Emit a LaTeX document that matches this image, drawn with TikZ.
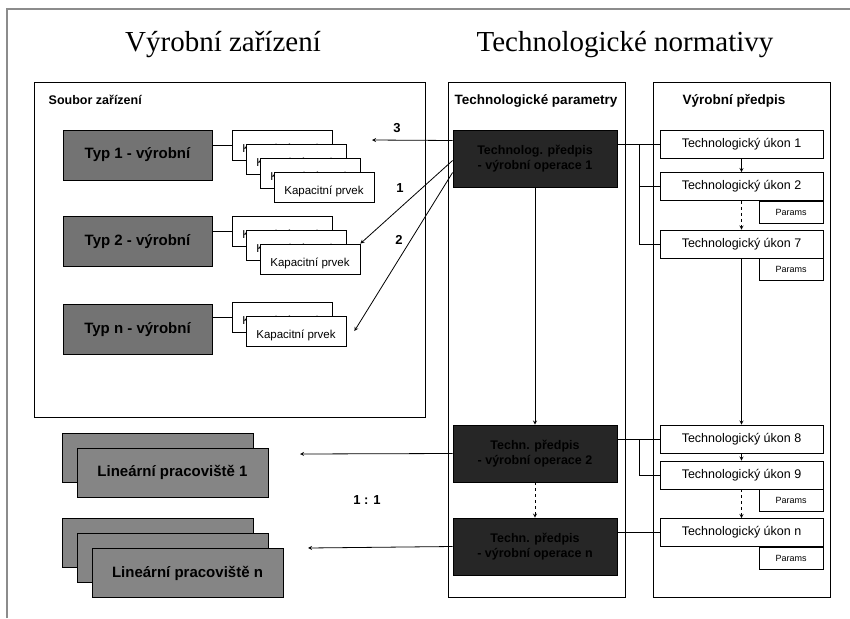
\documentclass[tikz,border=0pt]{standalone}
\usepackage{fontspec}
\setmainfont{Liberation Sans}
\newfontfamily\titleserif{Liberation Serif}

\begin{document}
\begin{tikzpicture}[x=1pt,y=-1pt,>=stealth,line width=0.8pt,
    title/.style={font=\titleserif\fontsize{29}{32}\selectfont},
    head/.style={font=\fontsize{12.5}{14}\selectfont\bfseries},
    frame/.style={draw,line width=1pt},
    typ/.style={draw,fill=black!55,minimum width=149,minimum height=50,inner sep=0pt,font=\fontsize{15}{17}\selectfont\bfseries},
    kap/.style={draw,fill=white,minimum width=100,minimum height=30,inner sep=0pt,text height=14pt,text depth=0pt,font=\fontsize{11.5}{13}\selectfont},
    linbox/.style={draw,fill=black!48,minimum width=191,minimum height=49,inner sep=0pt,font=\fontsize{15}{17}\selectfont\bfseries},
    oper/.style={draw,fill=black!85,text=black,minimum width=164,minimum height=57,inner sep=0pt,align=center,font=\fontsize{12.5}{15}\selectfont\bfseries},
    ukon/.style={draw,fill=white,minimum width=163,minimum height=28,inner sep=0pt,font=\fontsize{12.5}{14}\selectfont},
    params/.style={draw,fill=white,minimum width=64,minimum height=22,inner sep=0pt,anchor=north east,font=\fontsize{9}{10}\selectfont},
    num/.style={font=\fontsize{13}{15}\selectfont\bfseries}]

    \useasboundingbox[fill=white] (0,0) rectangle (850,618);
    \draw[black!45,line width=1.2pt] (7,618) -- (7,9) -- (850,9);

    % headings
    \node[title] (h1) at (223,45) {Výrobní zařízení};
    \node[title] (h2) at (625,45) {Technologické normativy};

    % column frames
    \draw[frame] (34,82) rectangle (425,417);
    \draw[frame] (448,82) rectangle (625,597);
    \draw[frame] (653,82) rectangle (830,597);
    \node[head,anchor=west] (s0) at (45,100) {Soubor zařízení};
    \node[head,font=\fontsize{13.5}{15}\selectfont\bfseries] (s1) at (536,101) {Technologické parametry};
    \node[head,font=\fontsize{13.5}{15}\selectfont\bfseries] (s2) at (734,101) {Výrobní předpis};

    % equipment types
    \node[typ] (t1) at (137.5,155) {Typ 1 - výrobní};
    \node[typ] (t2) at (137.5,241.5) {Typ 2 - výrobní};
    \node[typ] (tn) at (137.5,329.5) {Typ n - výrobní};

    \draw (t1.east |- 282,145) -- (232,145);
    \draw (t2.east |- 282,231) -- (232,231);
    \draw (tn.east |- 282,317) -- (232,317);

    \node[kap] (k11) at (282,145) {Kapacitní prvek};
    \node[kap] (k12) at ([shift={(14,14)}]k11) {Kapacitní prvek};
    \node[kap] (k13) at ([shift={(14,14)}]k12) {Kapacitní prvek};
    \node[kap] (k14) at ([shift={(14,14)}]k13) {Kapacitní prvek};

    \node[kap] (k21) at (282,231) {Kapacitní prvek};
    \node[kap] (k22) at ([shift={(14,14)}]k21) {Kapacitní prvek};
    \node[kap] (k23) at ([shift={(14,14)}]k22) {Kapacitní prvek};

    \node[kap] (kn1) at (282,317) {Kapacitní prvek};
    \node[kap] (kn2) at ([shift={(14,14)}]kn1) {Kapacitní prvek};

    % linear workplaces
    \node[linbox] (l11) at (157.5,457.5) {};
    \node[linbox] (l12) at ([shift={(15,15)}]l11) {Lineární pracoviště 1};
    \node[linbox] (ln1) at (157.5,543) {};
    \node[linbox] (ln2) at ([shift={(15,15)}]ln1) {};
    \node[linbox] (ln3) at ([shift={(15,15)}]ln2) {Lineární pracoviště n};

    % technological parameters
    \node[oper] (p1) at (535,158.5) {Technolog. předpis\\- výrobní operace 1};
    \node[oper] (p2) at (535,453.5) {Techn. předpis\\- výrobní operace 2};
    \node[oper] (pn) at (535,546.5) {Techn. předpis\\- výrobní operace n};

    % production steps
    \node[ukon] (u1) at (741.5,144) {Technologický úkon 1};
    \node[ukon] (u2) at (741.5,186.5) {Technologický úkon 2};
    \node[ukon] (u7) at (741.5,244) {Technologický úkon 7};
    \node[ukon] (u8) at (741.5,439) {Technologický úkon 8};
    \node[ukon] (u9) at (741.5,475) {Technologický úkon 9};
    \node[ukon] (un) at (741.5,532.5) {Technologický úkon n};
    \node[params] (r2) at (u2.south east) {Params};
    \node[params] (r7) at (u7.south east) {Params};
    \node[params] (r9) at (u9.south east) {Params};
    \node[params] (rn) at (un.south east) {Params};

    \coordinate (b1) at (639,144);
    \coordinate (b2) at (639,439);
    \coordinate (e3) at (372,140);
    \coordinate (e1) at (300,454);
    \coordinate (en) at (308,548);

    \path[->]
        (p1.south) edge (p2.north)
        (p2.south) edge[dashed] (pn.north)
        (u1.south) edge (u2.north)
        (u2.south) edge[dashed] (u7.north)
        (u7.south) edge (u8.north)
        (u8.south) edge (u9.north)
        (u9.south) edge[dashed] (un.north)
        ([yshift=18pt]p1.west) edge (e3)
        ([yshift=-2pt]p1.west) edge (k23.north east)
        ([yshift=-14pt]p1.west) edge ([xshift=8pt]kn2.east)
        (p2.west) edge (e1)
        (pn.west) edge (en)
        ;

    \draw (u1.west) -- (u1.west -| p1.east);
    \draw (u7.west) -| (b1);
    \draw (u2.west) -- (u2.west -| b1);
    \draw (u8.west) -- (u8.west -| p2.east);
    \draw (u9.west) -| (b2);
    \draw (un.west) -- (un.west -| pn.east);

    \node[num] (n3) at (397,128) {3};
    \node[num] (n1) at (400,188) {1};
    \node[num] (n2) at (399,240) {2};
    \node[num] (n11) at (367,500) {1 : 1};
\end{tikzpicture}
\end{document}
